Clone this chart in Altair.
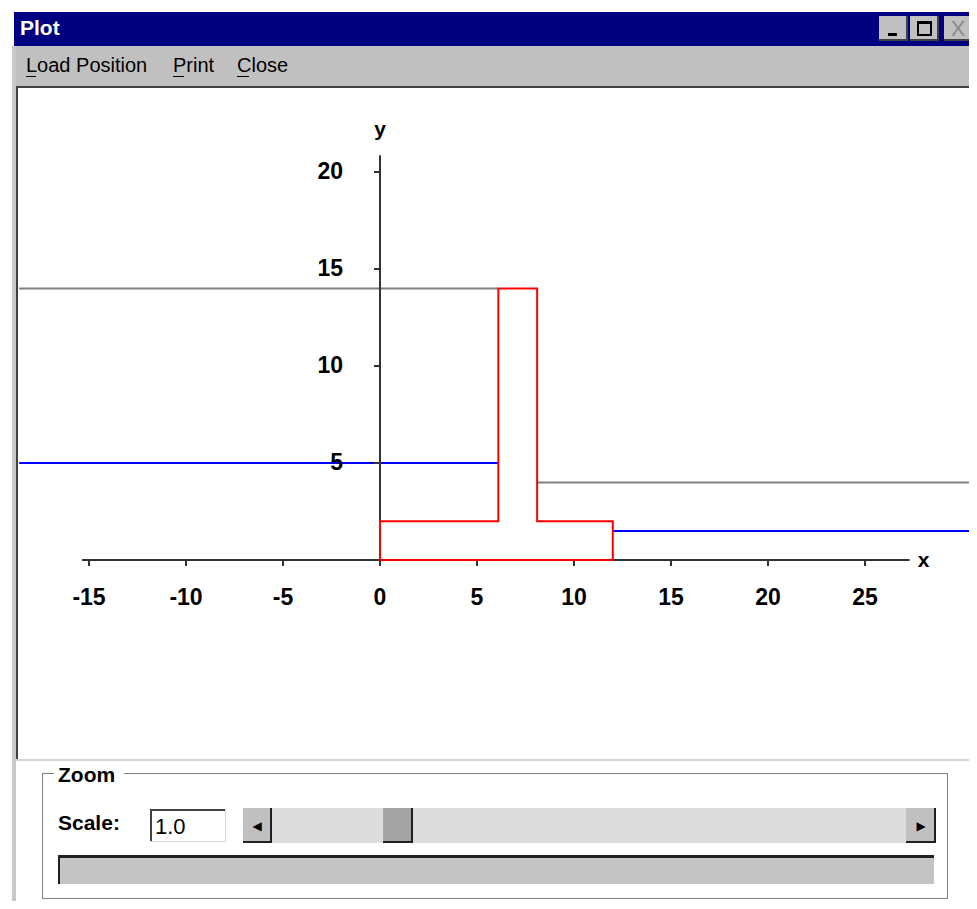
import altair as alt
import pandas as pd

# ---------------- chart data ----------------
x_ticks = [-15, -10, -5, 0, 5, 10, 15, 20, 25]
y_ticks = [5, 10, 15, 20]

red_x = [0, 0, 6.1, 6.1, 8.1, 8.1, 12, 12, 0]
red_y = [0, 2, 2, 14, 14, 2, 2, 0, 0]

gray_x1 = [-18.6, 8.1]
gray_x2 = [6.1, 30.4]
gray_y = [14, 4]

blue_x1 = [-18.6, 12]
blue_x2 = [6.1, 30.4]
blue_y = [5, 1.5]

x_axis_ext = [-15.36, 27.3]
y_axis_ext = [0, 20.86]

# ---------------- layout ----------------
W, H = 961, 893
X0, Y0, PX = 372, 552, 19.4          # pixel position of the origin, pixels per unit
xs = alt.Scale(domain=[-X0 / PX, (W - X0) / PX], nice=False, zero=False)
ys = alt.Scale(domain=[(Y0 - H) / PX, Y0 / PX], nice=False, zero=False)
FONT = "Liberation Sans"
AX = "#333333"

def X(f):
    return alt.X(f, scale=xs, axis=None)

def Y(f):
    return alt.Y(f, scale=ys, axis=None)

# ---------------- window chrome (reference pixel boxes) ----------------
R = 8  # page margin
rect_rows = [
    # title bar & menu bar
    (14, 977, 12, 46, "#000080"),
    (14, 977, 46, 86, "#c0c0c0"),
    (12, 16, 46, 905, "#c8c8c8"),
    # plot frame
    (16, 18, 86, 761, "#404040"),
    (16, 976, 86, 88, "#404040"),
    (974, 976, 86, 761, "#d4d4d4"),
    (16, 976, 759, 761, "#d4d4d4"),
    # title buttons
    (879, 908, 16, 41, "#c0c0c0"), (879, 908, 39, 41, "#404040"), (906, 908, 16, 41, "#404040"),
    (910, 939, 16, 41, "#c0c0c0"), (910, 939, 39, 41, "#404040"), (937, 939, 16, 41, "#404040"),
    (944, 973, 16, 41, "#c0c0c0"), (944, 973, 39, 41, "#404040"), (971, 973, 16, 41, "#404040"),
    (888, 897, 33, 36, "#000000"),
    (917, 932, 21, 24, "#000000"), (917, 932, 34, 36, "#000000"),
    (917, 919, 21, 36, "#000000"), (930, 932, 21, 36, "#000000"),
    # menu mnemonics underline
    (26, 36, 76, 77, "#000000"), (173, 184, 76, 77, "#000000"), (237, 249, 76, 77, "#000000"),
    # group box
    (42, 948, 773, 774, "#808080"), (42, 948, 898, 899, "#808080"),
    (42, 43, 773, 899, "#808080"), (947, 948, 773, 899, "#808080"),
    (54, 124, 765, 786, "#ffffff"),
    # text box
    (150, 226, 809, 842, "#ffffff"), (150, 226, 809, 811, "#404040"), (150, 152, 809, 842, "#404040"),
    (150, 226, 841, 842, "#d8d8d8"), (225, 226, 809, 842, "#d8d8d8"),
    # scroll bar
    (243, 936, 808, 843, "#dcdcdc"),
    (243, 272, 808, 843, "#c0c0c0"), (243, 272, 841, 843, "#202020"), (270, 272, 808, 843, "#202020"),
    (383, 413, 808, 843, "#a4a4a4"), (383, 413, 841, 843, "#202020"), (411, 413, 808, 843, "#202020"),
    (906, 936, 808, 843, "#c0c0c0"), (906, 936, 841, 843, "#202020"), (934, 936, 808, 843, "#202020"),
    # status bar
    (58, 934, 855, 884, "#c4c4c4"), (58, 934, 855, 858, "#202020"), (58, 60, 855, 884, "#202020"),
]
chrome = pd.DataFrame(
    [(a - R, b - R, c - R, d - R, f) for a, b, c, d, f in rect_rows],
    columns=["x1", "x2", "y1", "y2", "fill"],
)
chrome_layer = alt.Chart(chrome).mark_rect().encode(
    x=alt.X("x1:Q", scale=None, axis=None), x2="x2:Q",
    y=alt.Y("y1:Q", scale=None, axis=None), y2="y2:Q",
    fill=alt.Fill("fill:N", scale=None),
)

def txt(rows, font=FONT, **kw):
    df = pd.DataFrame([(x - R, y - R, t) for x, y, t in rows], columns=["px", "py", "t"])
    return alt.Chart(df).mark_text(baseline="middle", font=font, **kw).encode(
        x=alt.X("px:Q", scale=None, axis=None),
        y=alt.Y("py:Q", scale=None, axis=None),
        text="t:N",
    )

texts = [
    txt([(20, 29, "Plot")], align="left", fontSize=21, fontWeight="bold", color="#ffffff"),
    txt([(26, 66, "Load Position"), (173, 66, "Print"), (237, 66, "Close")],
        align="left", fontSize=20, color="#000000"),
    txt([(958, 29, "X")], align="center", fontSize=22, color="#8a8a8a"),
    txt([(58, 776, "Zoom"), (58, 824, "Scale:")], align="left", fontSize=21,
        fontWeight="bold", color="#000000"),
    txt([(155, 827, "1.0")], align="left", fontSize=22, color="#000000"),
    txt([(257, 826, "\u25C0"), (921, 826, "\u25B6")], font="DejaVu Sans", align="center",
        fontSize=12, color="#000000"),
]

# ---------------- plot layers ----------------
df_red = pd.DataFrame({"x": red_x, "y": red_y, "i": range(len(red_x))})
df_gray = pd.DataFrame({"x": gray_x1, "x2": gray_x2, "y": gray_y})
df_blue = pd.DataFrame({"x": blue_x1, "x2": blue_x2, "y": blue_y})
df_xt = pd.DataFrame({"x": x_ticks, "y": [0] * len(x_ticks), "t": [str(v) for v in x_ticks]})
df_yt = pd.DataFrame({"y": y_ticks, "x": [0] * len(y_ticks), "t": [str(v) for v in y_ticks]})
df_xax = pd.DataFrame({"x": [x_axis_ext[0]], "x2": [x_axis_ext[1]], "y": [0]})
df_yax = pd.DataFrame({"y": [y_axis_ext[0]], "y2": [y_axis_ext[1]], "x": [0]})
df_xlab = pd.DataFrame({"x": [x_axis_ext[1]], "y": [0], "t": ["x"]})
df_ylab = pd.DataFrame({"x": [0], "y": [y_axis_ext[1]], "t": ["y"]})

gray_layer = alt.Chart(df_gray).mark_rule(color="#808080", strokeWidth=2).encode(
    x=X("x:Q"), x2="x2:Q", y=Y("y:Q"))
blue_layer = alt.Chart(df_blue).mark_rule(color="#0000ff", strokeWidth=2).encode(
    x=X("x:Q"), x2="x2:Q", y=Y("y:Q"))
xax = alt.Chart(df_xax).mark_rule(color=AX, strokeWidth=2).encode(
    x=X("x:Q"), x2="x2:Q", y=Y("y:Q"))
yax = alt.Chart(df_yax).mark_rule(color=AX, strokeWidth=2).encode(
    y=Y("y:Q"), y2="y2:Q", x=X("x:Q"))
xtick = alt.Chart(df_xt).mark_rule(color=AX, strokeWidth=2, y2Offset=6).encode(
    x=X("x:Q"), y=Y("y:Q"), y2="y:Q")
ytick = alt.Chart(df_yt).mark_rule(color=AX, strokeWidth=2, x2Offset=-6).encode(
    y=Y("y:Q"), x=X("x:Q"), x2="x:Q")
red_layer = alt.Chart(df_red).mark_line(color="#ff0000", strokeWidth=2).encode(
    x=X("x:Q"), y=Y("y:Q"), order="i:Q")
xlabels = alt.Chart(df_xt).mark_text(font=FONT, fontSize=23, fontWeight="bold",
                                     baseline="middle", dy=38, color="#000000").encode(
    x=X("x:Q"), y=Y("y:Q"), text="t:N")
ylabels = alt.Chart(df_yt).mark_text(font=FONT, fontSize=23, fontWeight="bold", align="right",
                                     baseline="middle", dx=-37, color="#000000").encode(
    x=X("x:Q"), y=Y("y:Q"), text="t:N")
xname = alt.Chart(df_xlab).mark_text(font=FONT, fontSize=21, fontWeight="bold",
                                     baseline="middle", dx=14, dy=1, color="#000000").encode(
    x=X("x:Q"), y=Y("y:Q"), text="t:N")
yname = alt.Chart(df_ylab).mark_text(font=FONT, fontSize=21, fontWeight="bold",
                                     baseline="middle", dy=-25, color="#000000").encode(
    x=X("x:Q"), y=Y("y:Q"), text="t:N")

chart = alt.layer(
    chrome_layer, *texts,
    gray_layer, blue_layer, xax, yax, xtick, ytick, red_layer,
    xlabels, ylabels, xname, yname,
).properties(
    width=W, height=H, padding=0, autosize=alt.AutoSizeParams(type="none"),
    background="#ffffff",
).configure_view(stroke=None)

chart.save("out.html", embed_options={"renderer": "svg", "actions": False})
